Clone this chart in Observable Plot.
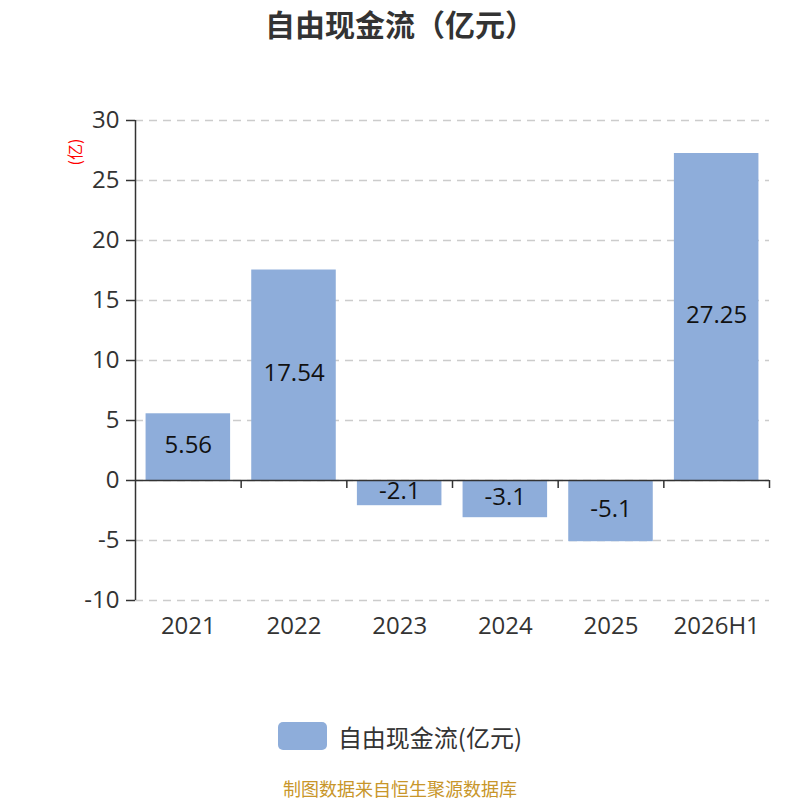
<!DOCTYPE html>
<html>
<head>
<meta charset="utf-8">
<script src="https://cdn.jsdelivr.net/npm/d3@7"></script>
<script src="https://cdn.jsdelivr.net/npm/@observablehq/plot@0.6"></script>
<style>
  html, body { margin: 0; padding: 0; background: #fff; }
  body { width: 800px; height: 800px; font-family: "Noto Sans CJK SC", "Open Sans", sans-serif; }
  #title { height: 50px; line-height: 46px; text-align: center; font-size: 30px; font-weight: bold; color: #333; }
  #legend { height: 40px; display: flex; align-items: center; justify-content: center; margin-top: 56px; }
  #legend .sw { width: 49px; height: 28px; background: #8eadda; border-radius: 5px; margin-right: 11px; }
  #legend .lb { font-size: 24px; color: #333; }
  #caption { text-align: center; font-size: 18px; color: #c8962a; margin-top: 20px; line-height: 24px; }
</style>
</head>
<body>
<div id="title">自由现金流（亿元）</div>
<div id="chart"></div>
<div id="legend"><div class="sw"></div><div class="lb">自由现金流(亿元)</div></div>
<div id="caption">制图数据来自恒生聚源数据库</div>
<script>
const categories = ["2021", "2022", "2023", "2024", "2025", "2026H1"];
const values = [5.56, 17.54, -2.1, -3.1, -5.1, 27.25];
const valueLabels = ["5.56", "17.54", "-2.1", "-3.1", "-5.1", "27.25"];
const yTicks = [-10, -5, 0, 5, 10, 15, 20, 25, 30];

const data = categories.map((c, i) => ({cat: c, val: values[i], label: valueLabels[i]}));

const W = 800, H = 610, mL = 135, mR = 31, mT = 70, mB = 60;
const step = (W - mL - mR) / categories.length;
const barColor = "#8eadda";
const axisColor = "#333";
const latin = '"Open Sans", "Noto Sans CJK SC", sans-serif';

const chart = Plot.plot({
  width: W,
  height: H,
  marginLeft: mL,
  marginRight: mR,
  marginTop: mT,
  marginBottom: mB,
  style: {fontFamily: latin, background: "#fff"},
  x: {domain: categories, paddingInner: 0.2, paddingOuter: 0.1, round: false, label: null},
  y: {domain: [-10, 30], label: null},
  marks: [
    Plot.gridY(yTicks, {stroke: "#ccc", strokeOpacity: 1, strokeDasharray: "8,6", strokeWidth: 1.5}),
    Plot.barY(data, {x: "cat", y: "val", fill: barColor}),
    Plot.ruleY([0], {stroke: axisColor, strokeWidth: 1.5}),
    Plot.ruleX([categories[0]], {x: d => d, y1: -10, y2: 30, dx: -step / 2, stroke: axisColor, strokeWidth: 1.5}),
    Plot.ruleX(categories.slice(1), {x: d => d, y1: 0, y2: 0, insetBottom: -8, dx: -step / 2, stroke: axisColor, strokeWidth: 1.5}),
    Plot.ruleX([categories[categories.length - 1]], {x: d => d, y1: 0, y2: 0, insetBottom: -8, dx: step / 2, stroke: axisColor, strokeWidth: 1.5}),
    Plot.text(data, {x: "cat", y: d => d.val / 2, text: "label", fontSize: 24, dy: -2, fill: "#111"}),
    Plot.axisY(yTicks, {tickSize: 9, tickPadding: 7, fontSize: 24, color: axisColor, stroke: axisColor, strokeWidth: 1.5, tickFormat: d => String(d), label: null}),
    Plot.axisX({tickSize: 0, tickPadding: 16, fontSize: 24, color: axisColor, label: null}),
    Plot.text(["(亿)"], {frameAnchor: "top-left", dx: -66, dy: 45, rotate: -90, text: d => d, fill: "red", fontSize: 16, fontFamily: '"Noto Sans CJK SC", sans-serif'})
  ]
});
document.getElementById("chart").appendChild(chart);
</script>
</body>
</html>
